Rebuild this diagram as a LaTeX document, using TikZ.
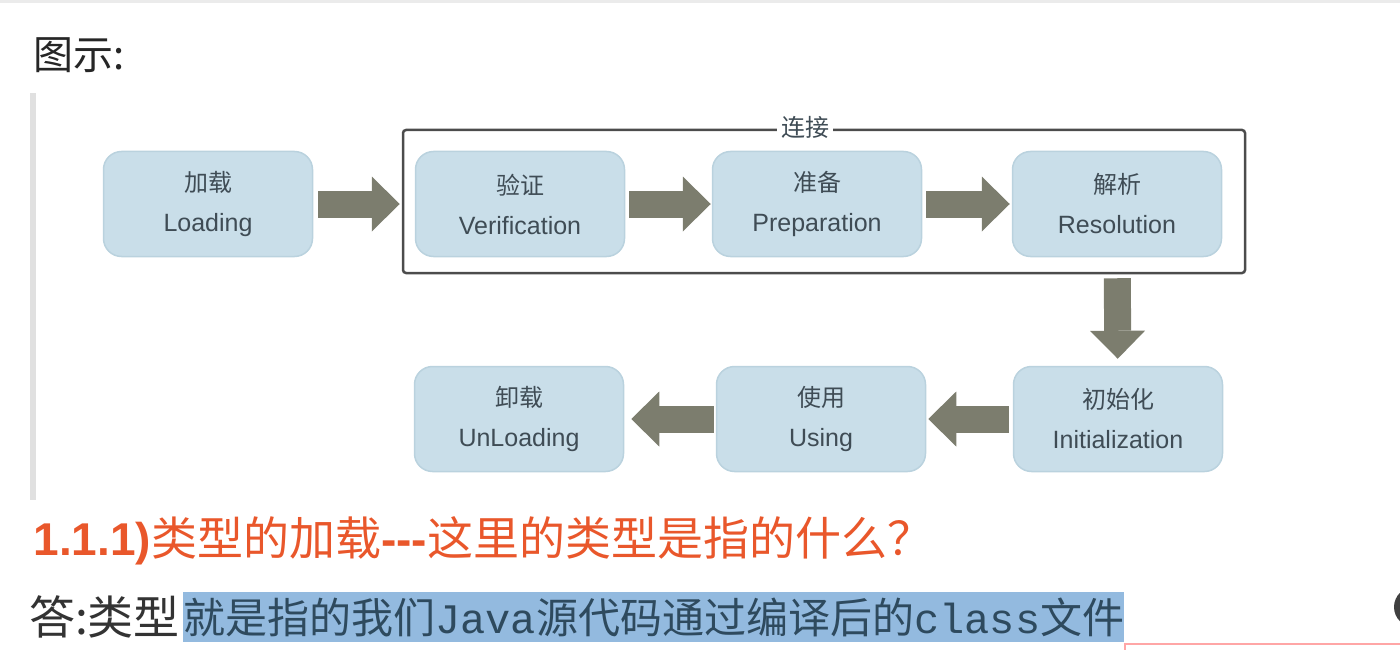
\documentclass[tikz,border=0pt]{standalone}
\usepackage{fontspec}
\setmainfont{Liberation Sans}
\setmonofont{Liberation Mono}
\newfontfamily\cjk{Noto Sans CJK SC}
\usetikzlibrary{arrows.meta}
\usetikzlibrary{positioning}
\definecolor{boxfill}{HTML}{C9DEE9}
\definecolor{boxline}{HTML}{BAD2DE}
\definecolor{boxtext}{HTML}{3F4C55}
\definecolor{arrclr}{HTML}{7C7D6E}
\definecolor{headclr}{HTML}{E9572B}
\definecolor{markclr}{HTML}{93BADF}
\definecolor{marktext}{HTML}{2E4A5E}
\tikzset{
    stage/.style={draw=boxline, line width=1.5pt, fill=boxfill, rounded corners=18pt,
        minimum width=209pt, minimum height=105pt, align=center, text=boxtext,
        font=\fontsize{25pt}{40pt}\selectfont},
    blockarr/.style={draw=arrclr, line width=27pt,
        -{Triangle[length=28pt,width=55pt,line width=0pt]}},
}
\begin{document}
\begin{tikzpicture}[x=1pt,y=-1pt]
    \useasboundingbox (0,0) rectangle (1400,650);
    \fill[black!8] (0,0) rectangle (1400,3);
    \fill[black!12] (30,93) rectangle (36,500);
    \node[anchor=west, font=\cjk\fontsize{40pt}{40pt}\selectfont, text=black!85] (title) at (30,55) {图示:};
    % stages
    \def\stages{load/208/204/加载/Loading, verif/520/204/验证/Verification,
        prep/817/204/准备/Preparation, resol/1117/204/解析/Resolution,
        init/1118/419/初始化/Initialization, use/821/419/使用/Using,
        unload/519/419/卸载/UnLoading}
    \foreach \nm/\x/\y/\zh/\en in \stages{
        \node[stage] (\nm) at (\x,\y) {{\cjk\fontsize{24pt}{40pt}\selectfont \zh}\\\en};
    }
    % 连接 frame
    \draw[black!70, line width=2.5pt, rounded corners=3pt] (403,130) rectangle (1245,273);
    \node[fill=white, inner sep=4pt, text=boxtext, font=\cjk\fontsize{24pt}{24pt}\selectfont] (link) at (805,127) {连接};
    \draw[blockarr, shorten <=5pt, shorten >=15pt] (load) -- (verif);
    \draw[blockarr, shorten <=4pt, shorten >=1pt] (verif) -- (prep);
    \draw[blockarr, shorten <=4pt, shorten >=2pt] (prep) -- (resol);
    \draw[blockarr, shorten <=21pt, shorten >=7pt] (resol) -- (init);
    \draw[blockarr, shorten <=4pt, shorten >=2pt] (init) -- (use);
    \draw[blockarr, shorten <=2pt, shorten >=7pt] (use) -- (unload);
    % text below
    \node[anchor=west, text=headclr, font=\fontsize{46pt}{46pt}\selectfont] (ques) at (30,541)
        {\textbf{1.1.1)}{\cjk 类型的加载}\textbf{-{}-{}-}{\cjk 这里的类型是指的什么？}};
    \node[anchor=west, inner sep=0pt, text=black!80, font=\cjk\fontsize{46pt}{46pt}\selectfont] (ans) at (29,617) {答:类型};
    \node[right=3pt of ans, fill=markclr, inner sep=0pt, minimum height=50pt, text=marktext,
        font=\cjk\fontsize{42pt}{42pt}\selectfont] (mark) {就是指的我们{\ttfamily Java}源代码通过编译后的{\ttfamily class}文件};
    \draw[red!35, line width=1.5pt] (1125,644) rectangle (1420,660);
    \fill[black!75] (1414,607) circle (20pt);
\end{tikzpicture}
\end{document}
